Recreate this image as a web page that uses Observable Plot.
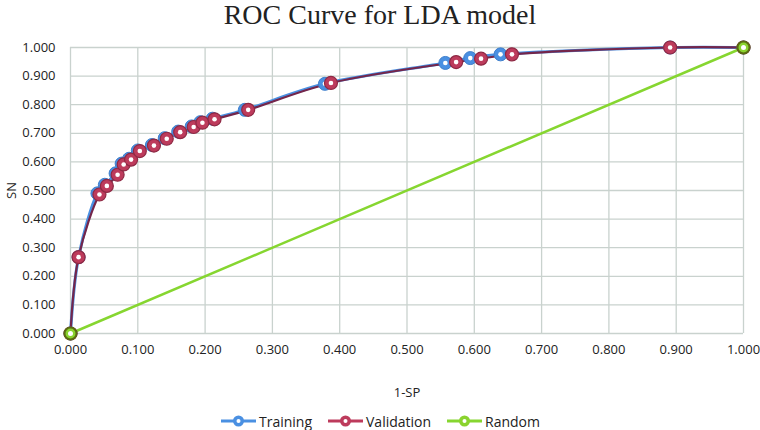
<!DOCTYPE html>
<html><head><meta charset="utf-8">
<script src="https://cdn.jsdelivr.net/npm/d3@7"></script>
<script src="https://cdn.jsdelivr.net/npm/@observablehq/plot@0.6"></script>
<style>
body{margin:0;background:#fff;width:760px;height:430px;overflow:hidden;position:relative;font-family:"Open Sans",sans-serif;}
#title{position:absolute;top:0;left:0;width:760px;height:30px;text-align:center;font-family:"Liberation Serif",serif;font-size:28px;line-height:30px;color:#222;}
#chart{position:absolute;top:30px;left:0;}
#legend{position:absolute;top:411px;left:0;width:760px;height:20px;}
.item{position:absolute;top:0;display:flex;align-items:center;font-size:14px;color:#222;height:20px;}
.item svg{margin-right:3px;}
</style></head><body>
<div id="title">ROC Curve for LDA model</div>
<div id="chart"></div>
<div id="legend"></div>
<script>
// Data
const trainingX   = [0, 0.012, 0.040, 0.051, 0.067, 0.076, 0.087, 0.100, 0.121, 0.140, 0.160, 0.180, 0.193, 0.211, 0.259, 0.378, 0.557, 0.594, 0.639, 0.891, 1.0];
const trainingY   = [0, 0.267, 0.490, 0.520, 0.560, 0.594, 0.611, 0.640, 0.659, 0.683, 0.706, 0.724, 0.739, 0.751, 0.782, 0.873, 0.946, 0.963, 0.976, 1.0, 1.0];
const validationX = [0, 0.012, 0.043, 0.054, 0.070, 0.079, 0.090, 0.103, 0.124, 0.143, 0.163, 0.183, 0.196, 0.214, 0.264, 0.387, 0.573, 0.610, 0.656, 0.891, 1.0];
const validationY = [0, 0.267, 0.486, 0.516, 0.555, 0.591, 0.608, 0.638, 0.657, 0.681, 0.704, 0.722, 0.737, 0.749, 0.782, 0.876, 0.949, 0.961, 0.976, 1.0, 1.0];
const randomX = [0, 1];
const randomY = [0, 1];
const tickValues = [0, 0.1, 0.2, 0.3, 0.4, 0.5, 0.6, 0.7, 0.8, 0.9, 1.0];
const seriesNames = ["Training", "Validation", "Random"];

const toRows = (xs, ys) => xs.map((x, i) => ({x, y: ys[i]}));
const training = toRows(trainingX, trainingY);
const validation = toRows(validationX, validationY);
const random = toRows(randomX, randomY);

const colors = {
  Training: {line: "#4a90e2", fill: "#4a90e2", stroke: "#3f7fcc"},
  Validation: {line: "#74264b", fill: "#bd3b5c", stroke: "#8e2944"},
  Random: {line: "#86d630", fill: "#8ad32e", stroke: "#5a6b12"}
};
const gridColor = "#c9d2ce";
const fmt = d3.format(".3f");

const chart = Plot.plot({
  width: 760, height: 380,
  marginLeft: 70, marginRight: 17, marginTop: 17, marginBottom: 77,
  x: {domain: [0, 1]},
  y: {domain: [0, 1]},
  style: {fontFamily: "Open Sans", fontSize: "13px", color: "#222", background: "#fff"},
  marks: [
    Plot.gridX(tickValues, {stroke: gridColor, strokeOpacity: 1, strokeWidth: 1.3}),
    Plot.gridY(tickValues, {stroke: gridColor, strokeOpacity: 1, strokeWidth: 1.3}),
    Plot.axisX(tickValues, {tickFormat: fmt, tickSize: 0, tickPadding: 11, label: "1-SP", labelAnchor: "center", labelArrow: "none", labelOffset: 63}),
    Plot.axisY(tickValues, {tickFormat: fmt, tickSize: 0, tickPadding: 15, label: "SN", labelAnchor: "center", labelArrow: "none", labelOffset: 64}),
    Plot.line(training, {x: "x", y: "y", curve: "catmull-rom", stroke: colors.Training.line, strokeWidth: 3}),
    Plot.line(validation, {x: "x", y: "y", curve: "catmull-rom", stroke: colors.Validation.line, strokeWidth: 2.2}),
    Plot.line(random, {x: "x", y: "y", stroke: colors.Random.line, strokeWidth: 2.5}),
    Plot.dot(training, {x: "x", y: "y", r: 6.5, fill: colors.Training.fill, stroke: colors.Training.stroke, strokeWidth: 1}),
    Plot.dot(training, {x: "x", y: "y", r: 2.3, fill: "#fff"}),
    Plot.dot(validation, {x: "x", y: "y", r: 6.5, fill: colors.Validation.fill, stroke: colors.Validation.stroke, strokeWidth: 1.2}),
    Plot.dot(validation, {x: "x", y: "y", r: 2.3, fill: "#fff"}),
    Plot.dot(random, {x: "x", y: "y", r: 6, fill: colors.Random.fill, stroke: colors.Random.stroke, strokeWidth: 2}),
    Plot.dot(random, {x: "x", y: "y", r: 2.5, fill: "#fff"})
  ]
});
document.getElementById("chart").appendChild(chart);

// Legend
const legendLeft = [221, 328, 447];
const legend = document.getElementById("legend");
seriesNames.forEach((name, i) => {
  const c = colors[name];
  const item = document.createElement("div");
  item.className = "item";
  item.style.left = legendLeft[i] + "px";
  item.innerHTML = `<svg width="35" height="20"><line x1="0" x2="35" y1="10" y2="10" stroke="${name === "Validation" ? c.fill : c.line}" stroke-width="3"/><circle cx="17.5" cy="10" r="5.5" fill="${c.fill}"/><circle cx="17.5" cy="10" r="2" fill="#fff"/></svg><span>${name}</span>`;
  legend.appendChild(item);
});
</script>
</body></html>
